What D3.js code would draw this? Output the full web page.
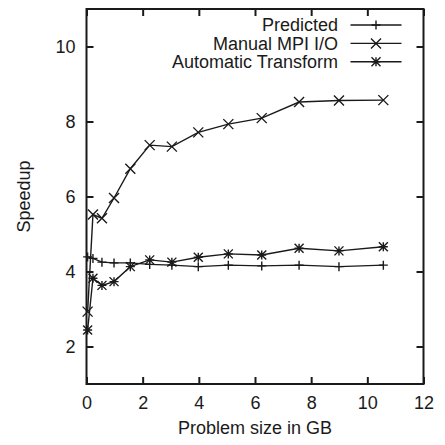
<!DOCTYPE html>
<html>
<head>
<meta charset="utf-8">
<script src="https://cdn.jsdelivr.net/npm/d3@7/dist/d3.min.js"></script>
<style>
  html, body { margin: 0; padding: 0; background: #fff; }
  svg { display: block; }
  text { font-family: "Liberation Sans", Arial, Helvetica, sans-serif; fill: #1a1a1a; }
</style>
</head>
<body>
<svg id="chart" width="445" height="445"></svg>
<script>
// Problem sizes (GB) shared by all three runs
const sizes = [0.04, 0.23, 0.55, 0.98, 1.56, 2.25, 3.04, 3.98, 5.05, 6.24, 7.57, 8.99, 10.57];

const predicted = [4.39, 4.35, 4.25, 4.23, 4.23, 4.19, 4.17, 4.13, 4.17, 4.15, 4.17, 4.13, 4.17];
const manualMPI = [2.93, 5.52, 5.42, 5.96, 6.74, 7.37, 7.33, 7.71, 7.93, 8.09, 8.52, 8.56, 8.57];
const automatic = [2.44, 3.82, 3.63, 3.73, 4.13, 4.31, 4.25, 4.38, 4.47, 4.44, 4.62, 4.55, 4.66];

const seriesNames = ["Predicted", "Manual MPI I/O", "Automatic Transform"];
const seriesMarkers = ["plus", "cross", "star"];

const xTicks = [0, 2, 4, 6, 8, 10, 12];
const yTicks = [2, 4, 6, 8, 10];

const ink = "#1a1a1a";
const svg = d3.select("#chart");
const plot = { left: 86.5, right: 423.5, top: 9, bottom: 384 };

const x = d3.scaleLinear().domain([0, 12]).range([plot.left, plot.right]);
const y = d3.scaleLinear().domain([1, 11]).range([plot.bottom, plot.top]);

const tickLen = 7;
const fontSize = "18px";

// Axes: inward ticks, labels on bottom/left, mirrored ticks on top/right
const axisBottomG = svg.append("g").attr("transform", `translate(0,${plot.bottom})`)
  .call(d3.axisBottom(x).tickValues(xTicks).tickSizeInner(-tickLen).tickSizeOuter(0).tickPadding(12).tickFormat(d3.format("d")));
const axisTopG = svg.append("g").attr("transform", `translate(0,${plot.top})`)
  .call(d3.axisTop(x).tickValues(xTicks).tickSizeInner(-tickLen).tickSizeOuter(0).tickFormat(""));
const axisLeftG = svg.append("g").attr("transform", `translate(${plot.left},0)`)
  .call(d3.axisLeft(y).tickValues(yTicks).tickSizeInner(-tickLen).tickSizeOuter(0).tickPadding(11).tickFormat(d3.format("d")));
const axisRightG = svg.append("g").attr("transform", `translate(${plot.right},0)`)
  .call(d3.axisRight(y).tickValues(yTicks).tickSizeInner(-tickLen).tickSizeOuter(0).tickFormat(""));

[axisBottomG, axisTopG, axisLeftG, axisRightG].forEach(g => {
  g.select(".domain").remove();
  g.selectAll(".tick line").attr("stroke", ink).attr("stroke-width", 2);
  g.selectAll(".tick text").attr("font-size", fontSize).style("fill", ink);
});

// Frame
svg.append("rect")
  .attr("x", plot.left).attr("y", plot.top)
  .attr("width", plot.right - plot.left).attr("height", plot.bottom - plot.top)
  .attr("fill", "none").attr("stroke", ink).attr("stroke-width", 2);

// Axis titles
svg.append("text")
  .attr("x", (plot.left + plot.right) / 2).attr("y", 434)
  .attr("text-anchor", "middle").attr("font-size", fontSize)
  .text("Problem size in GB");
svg.append("text")
  .attr("transform", `translate(30,${(plot.top + plot.bottom) / 2}) rotate(-90)`)
  .attr("text-anchor", "middle").attr("font-size", fontSize)
  .text("Speedup");

// Point marker shapes
function drawMarker(g, kind, cx, cy) {
  const s = 4.5;
  const paths = [];
  if (kind === "plus" || kind === "star") {
    paths.push(`M${cx - s},${cy}H${cx + s}M${cx},${cy - s}V${cy + s}`);
  }
  if (kind === "cross" || kind === "star") {
    const d = kind === "star" ? 4.5 : 5;
    paths.push(`M${cx - d},${cy - d}L${cx + d},${cy + d}M${cx - d},${cy + d}L${cx + d},${cy - d}`);
  }
  g.append("path").attr("d", paths.join("")).attr("stroke", ink)
    .attr("stroke-width", 1.4).attr("fill", "none");
}

const line = d3.line().x(d => x(d[0])).y(d => y(d[1]));
const allSeries = [predicted, manualMPI, automatic];

allSeries.forEach((vals, i) => {
  const pts = sizes.map((s, j) => [s, vals[j]]);
  const g = svg.append("g");
  g.append("path").datum(pts).attr("d", line)
    .attr("fill", "none").attr("stroke", ink).attr("stroke-width", 1.4);
  pts.forEach(p => drawMarker(g, seriesMarkers[i], x(p[0]), y(p[1])));
});

// Legend
const legendTextX = 338, legendLineX0 = 350.5, legendLineX1 = 401.5, legendY0 = 25, legendDy = 18.4;
seriesNames.forEach((name, i) => {
  const ly = legendY0 + i * legendDy;
  const g = svg.append("g");
  g.append("text").attr("x", legendTextX).attr("y", ly).attr("dy", "0.35em")
    .attr("text-anchor", "end").attr("font-size", fontSize).text(name);
  g.append("line").attr("x1", legendLineX0).attr("x2", legendLineX1)
    .attr("y1", ly).attr("y2", ly).attr("stroke", ink).attr("stroke-width", 1.4);
  drawMarker(g, seriesMarkers[i], (legendLineX0 + legendLineX1) / 2, ly);
});
</script>
</body>
</html>
